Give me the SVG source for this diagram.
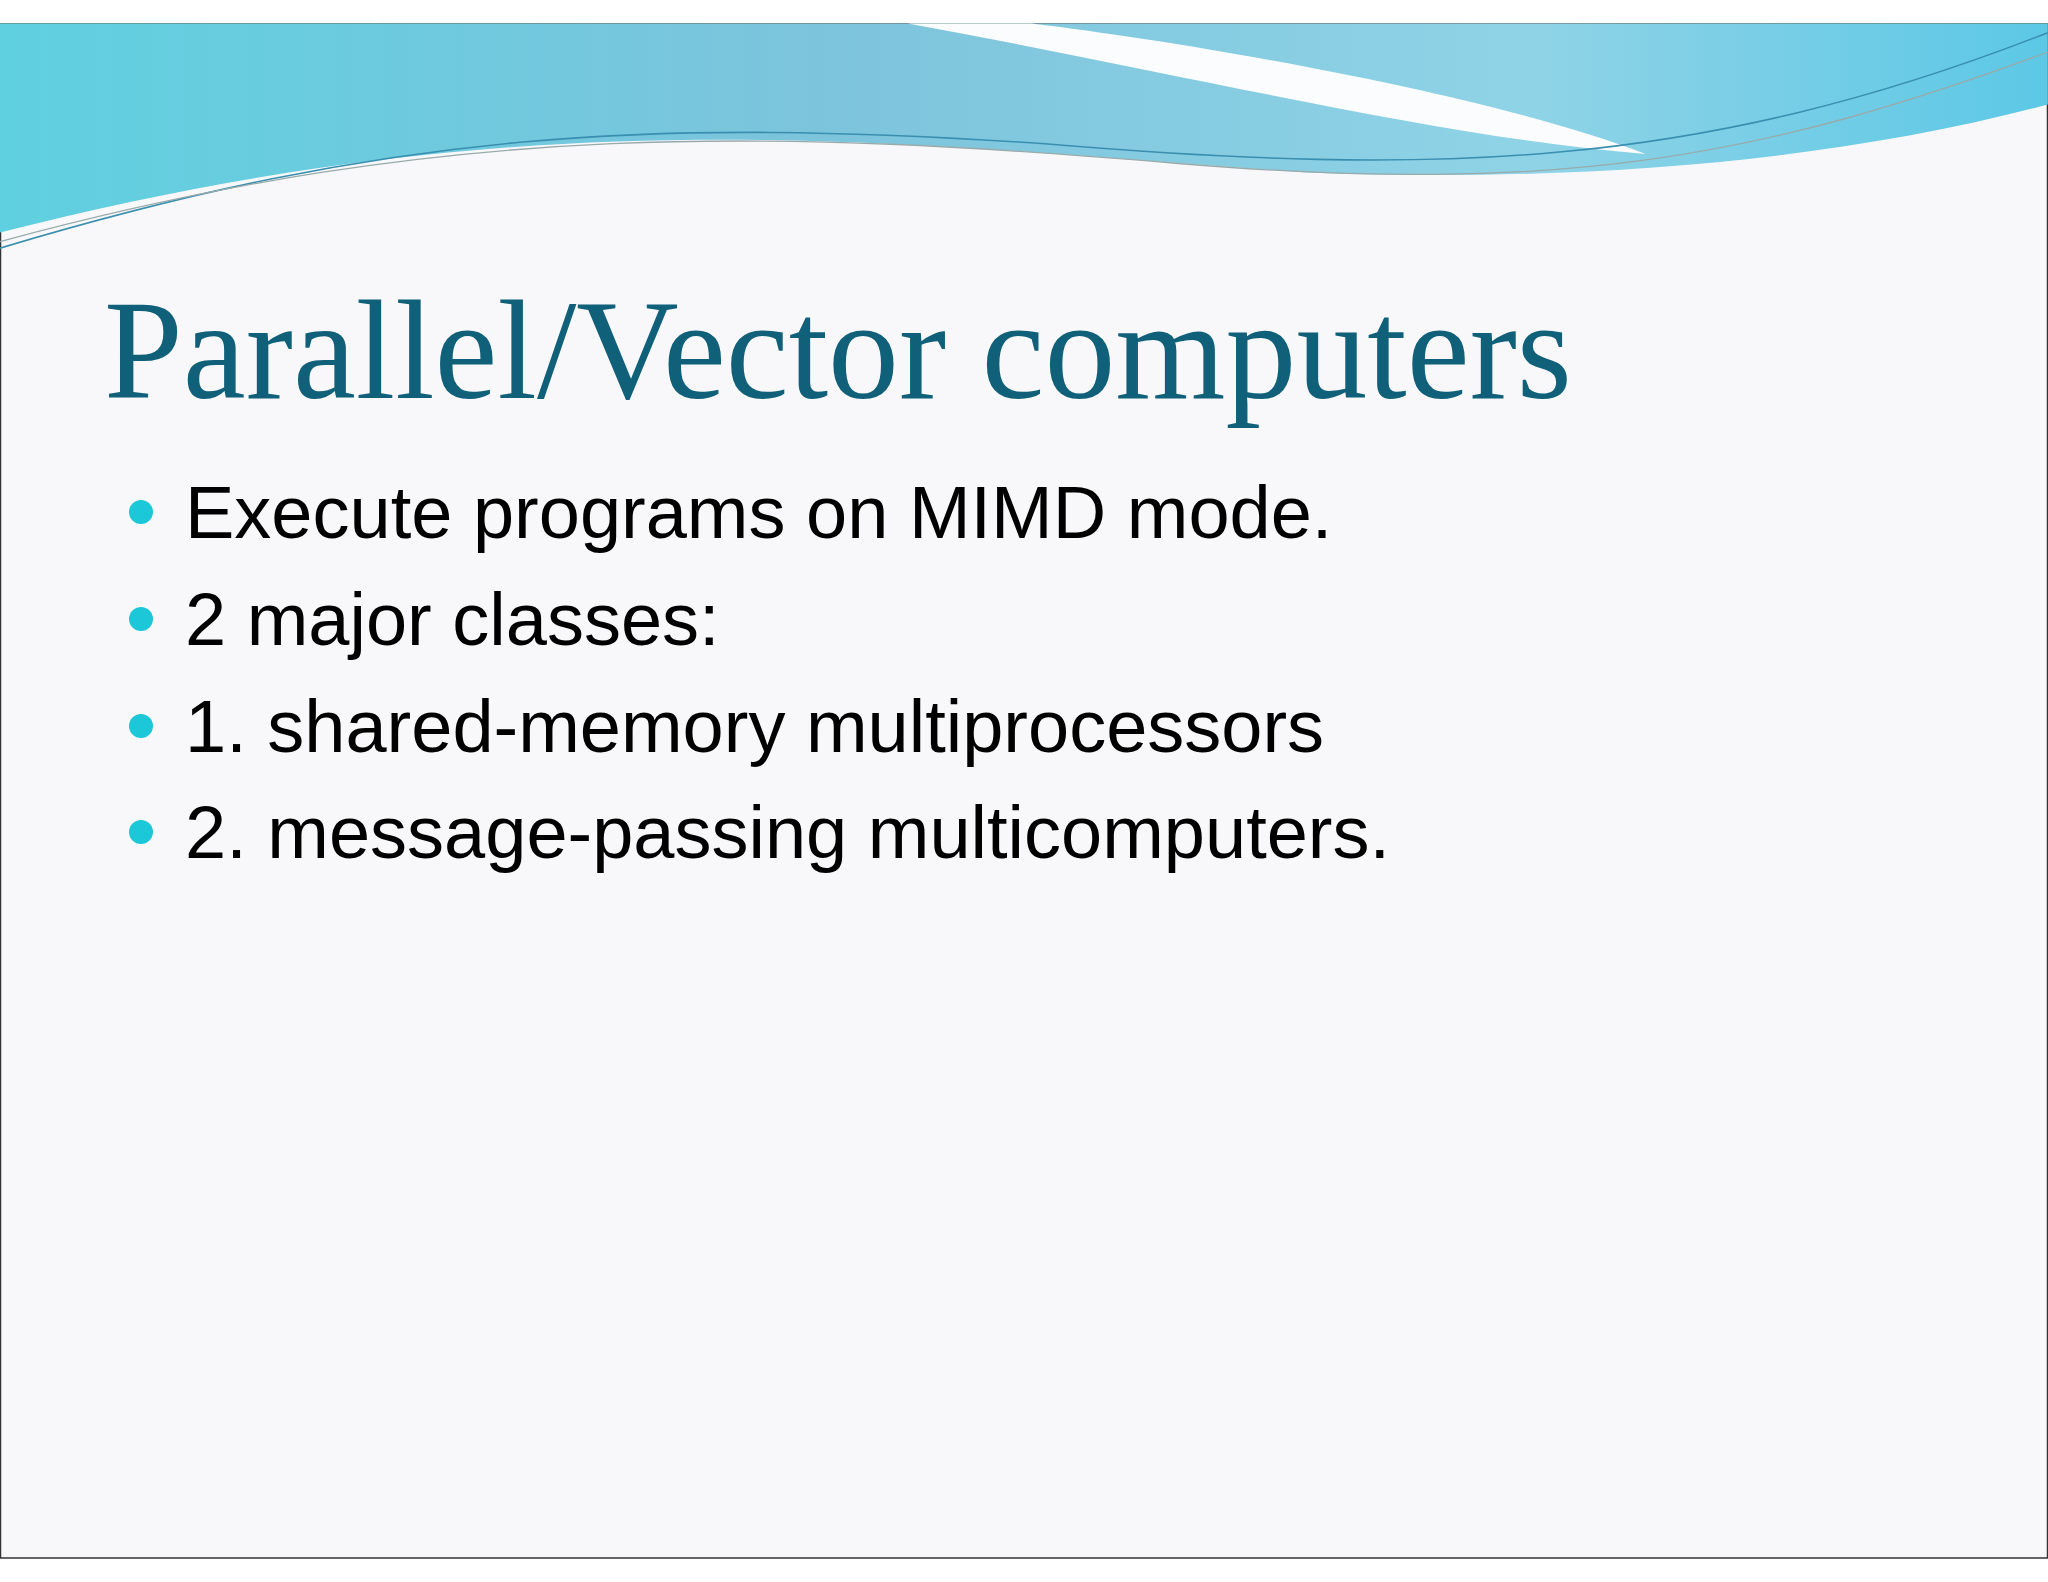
<svg xmlns="http://www.w3.org/2000/svg" width="2048" height="1582" viewBox="0 0 2048 1582">
<defs>
<linearGradient id="g" x1="0" y1="0" x2="1" y2="0">
<stop offset="0" stop-color="#5fd0e0"/><stop offset="0.4" stop-color="#7cc4dc"/><stop offset="0.75" stop-color="#8fd3e6"/><stop offset="1" stop-color="#5cc8e6"/>
</linearGradient>
<style>.b{font-family:"Liberation Sans",Arial,sans-serif;font-size:74px;fill:#000}.d{fill:#1cc8d8}</style>
</defs>
<rect x="0" y="0" width="2048" height="1582" fill="#fff"/>
<rect x="0.5" y="24" width="2047" height="1534" fill="#f8f8fa" stroke="#333" stroke-width="1.5"/>
<g transform="scale(1.306)">
<path d="M0,18 H1568 V80 C1400,125 1200,140 1000,132 C700,112 420,70 0,178 Z" fill="url(#g)"/>
<path d="M695,18 C900,55 1100,105 1260,118 C1150,75 930,35 790,18 Z" fill="#fafcfd"/>
<path d="M0,190 C300,100 500,90 800,110 C1100,135 1300,130 1568,25" fill="none" stroke="#3a8fb0" stroke-width="1.2"/>
<path d="M0,185 C350,90 600,100 900,125 C1200,150 1350,120 1568,40" fill="none" stroke="#9aa" stroke-width="1"/>
</g>
<text x="104" y="398" font-family="'Liberation Serif','Times New Roman',serif" font-size="142" fill="#10607a" textLength="1468" lengthAdjust="spacingAndGlyphs">Parallel/Vector computers</text>
<circle class="d" cx="141" cy="512" r="12"/><text class="b" x="185" y="538">Execute programs on MIMD mode.</text>
<circle class="d" cx="141" cy="619" r="12"/><text class="b" x="185" y="645">2 major classes:</text>
<circle class="d" cx="141" cy="726" r="12"/><text class="b" x="185" y="752">1. shared-memory multiprocessors</text>
<circle class="d" cx="141" cy="832" r="12"/><text class="b" x="185" y="858">2. message-passing multicomputers.</text>
</svg>
